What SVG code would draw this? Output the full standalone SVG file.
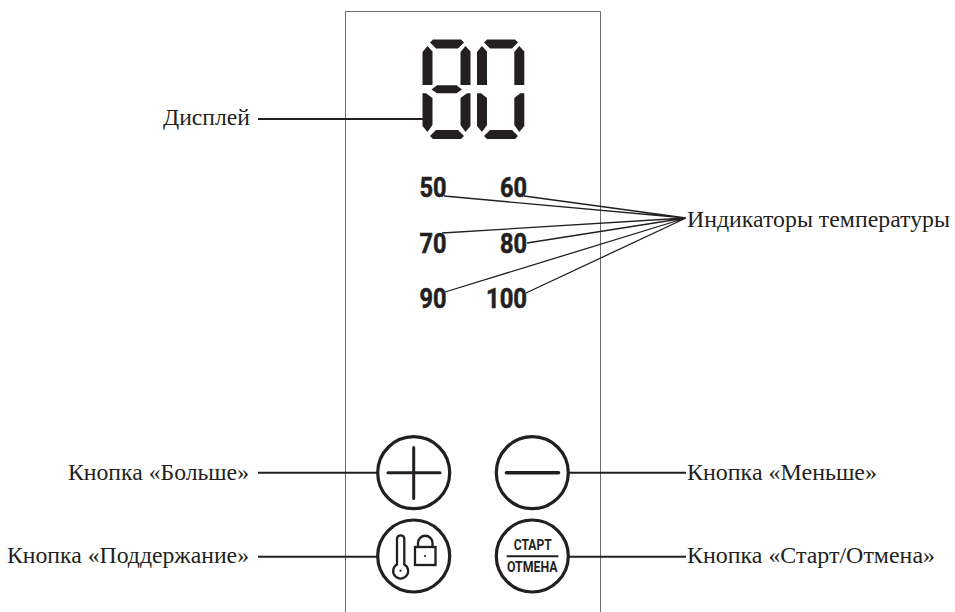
<svg xmlns="http://www.w3.org/2000/svg" width="955" height="612" viewBox="0 0 955 612">
<style>
.lbl{font-family:"Liberation Serif","Times New Roman",serif;font-size:23px;fill:#231f20}
.num{font-family:Roboto,"Liberation Sans",sans-serif;font-weight:700;font-size:28.500px;fill:#231f20;stroke:#231f20;stroke-width:.6}
.cap{font-family:Roboto,"Liberation Sans",sans-serif;font-weight:700;font-size:14px;fill:#231f20}
.ring{fill:#fff;stroke:#231f20;stroke-width:3.200}
.ln{fill:none;stroke:#231f20;stroke-width:1.3}
.ln2{fill:none;stroke:#231f20;stroke-width:1.9}
.ic{fill:none;stroke:#231f20;stroke-width:3;stroke-linecap:round}
.ic2{fill:none;stroke:#231f20;stroke-width:2.300;stroke-linecap:round}
.seg{fill:#231f20}
.dot{fill:#231f20}
</style>
<defs>
<polygon id="vu" points="-5,6 0,0 5,5.500 5,39 -5,39"/>
<polygon id="h" points="0,3 3,0 31,0 34,3 28,9 6,9"/>
<polygon id="hb" points="0,6 6,0 28,0 34,6 31,9 3,9"/>
</defs>
<path id="panel" d="M345.500 612V11.500H600.500V612" fill="none" stroke="#6d6e71" stroke-width="1"/>
<g id="connectors">
<path class="ln2" d="M258 119H423"/>
<path class="ln" d="M444 196L686 218M524 196L686 218M442 233L686 218M527 243L686 218M445 292L686 218M526 293L686 218"/>
<path class="ln2" d="M258 472.700H378M568 472.700H686M258 556.700H378M568 556.700H686"/>
</g>
<g id="display">
<use href="#h" x="430" y="39.500" class="seg"/>
<use href="#vu" x="427.500" y="46" class="seg"/>
<use href="#vu" x="465.500" y="46" class="seg"/>
<polygon class="seg" points="431.500,89.500 437,85.200 456.500,85.200 462,89.500 456.500,93.300 437,93.300"/>
<polygon class="seg" points="422.500,93.300 426,93.300 432.500,98 432.500,125 427.500,132 422.500,126"/>
<polygon class="seg" points="470.500,93.300 467,93.300 460.500,98 460.500,125 465.500,132 470.500,126"/>
<use href="#hb" x="430" y="130" class="seg"/>
<use href="#h" x="484" y="39.500" class="seg"/>
<use href="#vu" x="482" y="46" class="seg"/>
<use href="#vu" x="519.300" y="46" class="seg"/>
<polygon class="seg" points="477,93.300 481,93.300 487,98 487,125 482,132 477,126"/>
<polygon class="seg" points="524.300,93.300 520.300,93.300 514.300,98 514.300,125 519.300,132 524.300,126"/>
<use href="#hb" x="484" y="130" class="seg"/>
</g>
<g id="indicators">
<text class="num" x="419.500" y="197" textLength="27" lengthAdjust="spacingAndGlyphs">50</text>
<text class="num" x="500" y="197" textLength="27" lengthAdjust="spacingAndGlyphs">60</text>
<text class="num" x="419.500" y="252.500" textLength="27" lengthAdjust="spacingAndGlyphs">70</text>
<text class="num" x="500" y="252.500" textLength="27" lengthAdjust="spacingAndGlyphs">80</text>
<text class="num" x="419.500" y="308" textLength="27" lengthAdjust="spacingAndGlyphs">90</text>
<text class="num" x="486" y="308" textLength="41" lengthAdjust="spacingAndGlyphs">100</text>
</g>
<g id="btn-plus">
<circle class="ring" cx="413.700" cy="472.700" r="36"/>
<path class="ic" d="M388 472.700H440M413.700 447.500V498.500"/>
</g>
<g id="btn-minus">
<circle class="ring" cx="532.300" cy="472.700" r="36"/>
<path class="ic" style="stroke-width:3.600" d="M506.500 472.700H558.500"/>
</g>
<g id="btn-hold">
<circle class="ring" cx="413.700" cy="556" r="36"/>
<path class="ic2" d="M397 564.500V538.500A3.700 3.700 0 0 1 404.300 538.500V564.500A7.500 7.500 0 1 1 397 564.500Z"/>
<rect x="415" y="547" width="20.500" height="18" fill="none" stroke="#231f20" stroke-width="2.300"/>
<path class="ic2" d="M418 547V543A7.200 7.200 0 0 1 432.500 543V547"/>
<circle class="dot" cx="400.500" cy="570.700" r="1.100"/>
<circle class="dot" cx="425" cy="556" r="1.100"/>
</g>
<g id="btn-start">
<circle class="ring" cx="532.300" cy="556" r="36"/>
<text class="cap" x="513.700" y="550" textLength="38" lengthAdjust="spacingAndGlyphs">СТАРТ</text>
<path class="ln2" d="M506.700 556.200H558.300"/>
<text class="cap" x="507" y="571.500" textLength="50.500" lengthAdjust="spacingAndGlyphs">ОТМЕНА</text>
</g>
<g id="labels">
<text class="lbl" x="163" y="125" textLength="87" lengthAdjust="spacingAndGlyphs">Дисплей</text>
<text class="lbl" x="687" y="226.500" textLength="263" lengthAdjust="spacingAndGlyphs">Индикаторы температуры</text>
<text class="lbl" x="68" y="480" textLength="181" lengthAdjust="spacingAndGlyphs">Кнопка «Больше»</text>
<text class="lbl" x="687" y="480" textLength="190" lengthAdjust="spacingAndGlyphs">Кнопка «Меньше»</text>
<text class="lbl" x="7" y="563" textLength="242" lengthAdjust="spacingAndGlyphs">Кнопка «Поддержание»</text>
<text class="lbl" x="687" y="563" textLength="248" lengthAdjust="spacingAndGlyphs">Кнопка «Старт/Отмена»</text>
</g>
</svg>
